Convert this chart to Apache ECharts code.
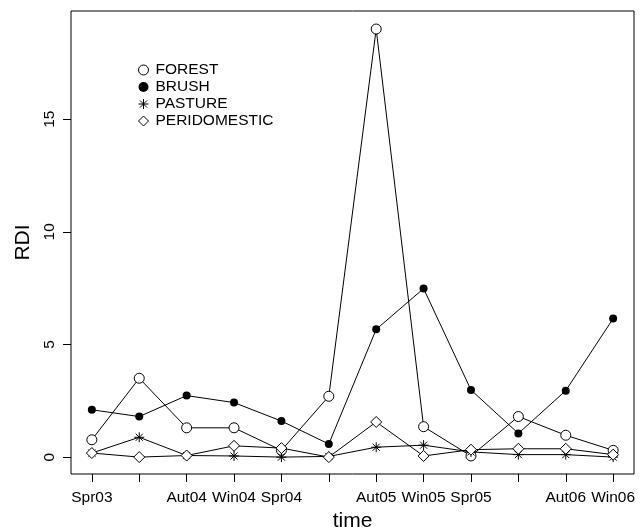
<!DOCTYPE html>
<html>
<head>
<meta charset="utf-8">
<script src="https://cdn.jsdelivr.net/npm/echarts@6/dist/echarts.min.js"></script>
<style>html,body{margin:0;padding:0;background:#fff}#c{width:644px;height:527px}</style>
</head>
<body>
<div id="c"></div>
<script>
const timeLabels = ['Spr03', '', 'Aut04', 'Win04', 'Spr04', '', 'Aut05', 'Win05', 'Spr05', '', 'Aut06', 'Win06'];
const forest = [0.77, 3.5, 1.3, 1.3, 0.3, 2.7, 19.0, 1.35, 0.05, 1.8, 0.97, 0.3];
const brush = [2.1, 1.8, 2.73, 2.42, 1.6, 0.58, 5.67, 7.48, 2.98, 1.05, 2.95, 6.15];
const pasture = [0.18, 0.88, 0.07, 0.05, 0.0, 0.03, 0.44, 0.53, 0.23, 0.11, 0.11, 0.0];
const peridomestic = [0.18, 0.0, 0.07, 0.5, 0.4, 0.0, 1.56, 0.05, 0.33, 0.37, 0.37, 0.11];
const yTicks = [0, 5, 10, 15];

const FONT = 'Liberation Sans, Arial, Helvetica, sans-serif';
const asterisk = 'path://M0,-10L0,10M-10,0L10,0M-7.07,-7.07L7.07,7.07M-7.07,7.07L7.07,-7.07';

function pts(arr) { return arr.map((v, i) => [i, v]); }

const seriesDefs = [
  { name: 'FOREST', data: forest, symbol: 'circle', size: 10, item: { color: '#fff', borderColor: '#000', borderWidth: 1 } },
  { name: 'BRUSH', data: brush, symbol: 'circle', size: 8, item: { color: '#000', borderColor: '#000', borderWidth: 0 } },
  { name: 'PASTURE', data: pasture, symbol: asterisk, size: 10, item: { color: '#000', borderColor: '#000', borderWidth: 1 } },
  { name: 'PERIDOMESTIC', data: peridomestic, symbol: 'diamond', size: 11, item: { color: '#fff', borderColor: '#000', borderWidth: 1 } }
];

const chart = echarts.init(document.getElementById('c'), null, { renderer: 'canvas' });
chart.setOption({
  animation: false,
  backgroundColor: '#fff',
  grid: { left: 71, right: 10, top: 11, bottom: 53, containLabel: false, outerBoundsMode: 'none', show: true, borderColor: '#000', borderWidth: 1, backgroundColor: 'transparent' },
  legend: {
    orient: 'vertical', left: 133, top: 57, itemGap: 1, itemWidth: 10, itemHeight: 10,
    textStyle: { fontFamily: FONT, fontSize: 15.5, lineHeight: 15, color: '#000', padding: [0, 0, 0, 2] },
    data: seriesDefs.map(s => ({ name: s.name, icon: s.symbol, itemStyle: Object.assign({}, s.item) }))
  },
  xAxis: {
    type: 'value', min: -0.44, max: 11.44,
    name: 'time', nameLocation: 'middle', nameGap: 31,
    nameTextStyle: { fontFamily: FONT, fontSize: 21, color: '#000' },
    axisLine: { show: false, onZero: false },
    splitLine: { show: false },
    axisTick: { show: true, length: 8, inside: false, customValues: timeLabels.map((_, i) => i), lineStyle: { color: '#000' } },
    axisLabel: { show: true, margin: 16, fontFamily: FONT, fontSize: 15.5, color: '#000', customValues: timeLabels.map((_, i) => i), formatter: v => timeLabels[Math.round(v)] || '' }
  },
  yAxis: {
    type: 'value', min: -0.75, max: 19.8,
    name: 'RDI', nameLocation: 'middle', nameGap: 37, nameRotate: 90,
    nameTextStyle: { fontFamily: FONT, fontSize: 21, color: '#000' },
    axisLine: { show: false, onZero: false },
    splitLine: { show: false },
    axisTick: { show: true, length: 8, customValues: yTicks, lineStyle: { color: '#000' } },
    axisLabel: { show: true, rotate: 90, margin: 21, fontFamily: FONT, fontSize: 15.5, color: '#000', customValues: yTicks, verticalAlign: 'middle', align: 'center' }
  },
  series: seriesDefs.map(s => ({
    name: s.name, type: 'line', data: pts(s.data),
    symbol: s.symbol, symbolSize: s.size, showAllSymbol: true,
    lineStyle: { color: '#000', width: 1 },
    itemStyle: Object.assign({}, s.item),
    emphasis: { disabled: true },
    z: 2
  }))
});
</script>
</body>
</html>
